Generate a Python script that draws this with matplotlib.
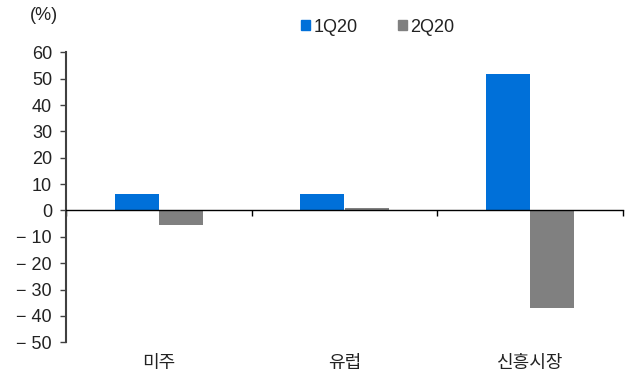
import matplotlib.pyplot as plt
import numpy as np
from matplotlib.patches import Rectangle
from matplotlib.ticker import FuncFormatter

plt.rcParams['font.family'] = ['Liberation Sans', 'Noto Sans CJK KR', 'DejaVu Sans']

regions = ['미주', '유럽', '신흥시장']
series_names = ['1Q20', '2Q20']
q1 = [6.3, 6.1, 51.7]
q2 = [-5.4, 1.1, -36.8]
colors = ['#0070d9', '#808080']

fig = plt.figure(figsize=(6.27, 3.8), dpi=100)
ax = fig.add_axes([66 / 627, 0.0992, (623 - 66) / 627, 0.8624 - 0.0992])

x = np.arange(len(regions))
w = 0.237
ax.bar(x - w / 2, q1, w, color=colors[0], edgecolor='none')
ax.bar(x + w / 2, q2, w, color=colors[1], edgecolor='none')

ax.set_xlim(-0.5, len(regions) - 0.5)
ax.set_ylim(-50, 60)
ax.set_yticks(np.arange(-50, 61, 10))
ax.yaxis.set_major_formatter(FuncFormatter(
    lambda v, p: f'\u2212 {abs(v):.0f}' if v < 0 else f'{v:.0f}'))

for s in ['top', 'right']:
    ax.spines[s].set_visible(False)
ax.spines['left'].set_color('#404040')
ax.spines['left'].set_linewidth(1.5)
ax.spines['bottom'].set_position(('data', 0))
ax.spines['bottom'].set_color('black')
ax.spines['bottom'].set_linewidth(1.0)

# boundary ticks on the zero line, labels placed separately below the plot
ax.set_xticks(np.arange(len(regions) + 1) - 0.5)
ax.set_xticklabels([])
ax.tick_params(axis='x', direction='out', length=4, width=1.0, color='black')
ax.tick_params(axis='y', direction='out', length=4, width=1.0, color='#404040',
               labelsize=13, labelcolor='#222222', pad=6)

for xi, name in zip(x, regions):
    ax.text(xi, -0.04, name, transform=ax.get_xaxis_transform(),
            ha='center', va='top', fontsize=13, color='#222222',
            family=['Noto Sans CJK KR', 'DejaVu Sans'])

fig.text(30 / 627, 1 - 15 / 380, '(%)', fontsize=13, color='#222222',
         ha='left', va='center')

handles = [Rectangle((0, 0), 1, 1, color=c) for c in colors]
leg = fig.legend(handles, series_names, loc='center', bbox_to_anchor=(378 / 627, 1 - 27 / 380),
                 ncol=2, frameon=False, fontsize=13, handlelength=0.5, handleheight=0.5,
                 handletextpad=0.2, columnspacing=2.2)
for t in leg.get_texts():
    t.set_color('#222222')

fig.savefig('out.png', dpi=100)
